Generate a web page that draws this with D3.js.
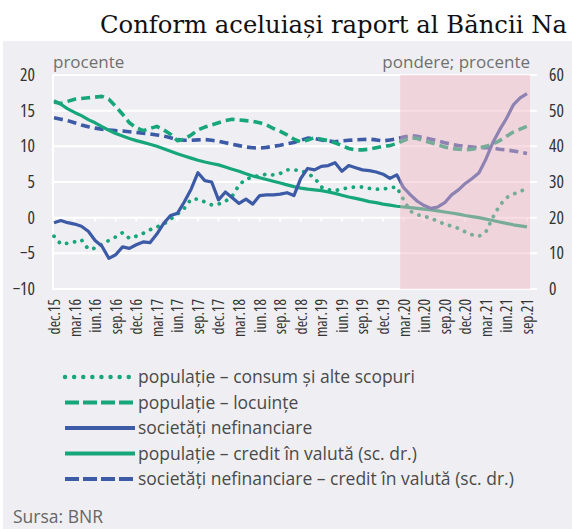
<!DOCTYPE html>
<html>
<head>
<meta charset="utf-8">
<script src="https://cdn.jsdelivr.net/npm/d3@7"></script>
<style>
  body { margin: 0; background: #fff; }
  svg { display: block; }
  .tick text { font-family: "Open Sans", "Noto Sans", sans-serif; font-stretch: condensed; }
</style>
</head>
<body>
<div id="chart"></div>
<script>
// tick labels on the x axis (every third month)
const tickLabels = ["dec.15","mar.16","iun.16","sep.16","dec.16","mar.17","iun.17","sep.17",
  "dec.17","mar.18","iun.18","sep.18","dec.18","mar.19","iun.19","sep.19","dec.19",
  "mar.20","iun.20","sep.20","dec.20","mar.21","iun.21","sep.21"];

// monthly values, dec.15 .. sep.21 (left scale, %)
const consum = [-2.6,-3.7,-3.6,-3.4,-3.1,-4.4,-4.3,-3.7,-3.2,-2.7,-2.1,-2.9,-2.6,-2.2,-1.7,-1.3,
  -0.9,-0.2,0.5,1.3,2.6,2.6,2.2,1.8,1.9,2.3,3.0,4.6,5.4,5.7,5.9,6.1,6.0,6.2,6.7,6.7,6.6,6.2,5.6,
  4.3,3.9,3.8,4.0,4.2,4.3,4.3,4.1,4.0,4.0,4.2,4.3,2.5,0.9,0.4,0.2,-0.1,-0.5,-0.9,-1.2,-1.5,-2.0,
  -2.4,-2.6,-2.0,0.0,1.7,2.8,3.3,3.7,4.1];
const locuinte = [16.2,16.0,16.3,16.6,16.7,16.8,16.9,17.0,16.6,15.6,14.5,13.3,12.6,12.2,12.5,
  12.8,12.3,11.7,10.8,11.0,11.6,12.3,12.7,13.0,13.3,13.6,13.8,13.7,13.6,13.5,13.3,13.0,12.5,12.1,
  11.6,11.0,10.6,10.9,11.2,11.0,10.8,10.5,10.1,9.7,9.5,9.5,9.6,9.8,10.0,10.1,10.4,10.8,11.2,11.1,
  10.8,10.5,10.2,9.9,9.7,9.6,9.5,9.6,9.8,10.0,10.3,10.8,11.4,12.0,12.4,12.8];
const nefinanciare = [-0.7,-0.4,-0.7,-0.9,-1.2,-1.9,-3.2,-4.0,-5.7,-5.2,-4.1,-4.3,-3.8,-3.4,-3.5,
  -2.3,-0.8,0.3,0.6,2.2,4.0,6.3,5.2,5.0,2.5,3.6,2.8,2.0,2.6,1.9,3.1,3.2,3.2,3.3,3.5,3.1,5.5,6.9,
  6.7,7.2,7.3,7.7,6.5,7.3,7.0,6.7,6.6,6.4,6.1,5.5,6.0,4.2,3.2,2.3,1.7,1.3,1.5,2.1,3.2,3.9,4.8,5.5,
  6.3,8.2,10.5,12.3,13.9,15.8,16.8,17.4];
// right scale, share in %
const popValuta = [52.8,51.8,50.5,49.5,48.6,47.5,46.6,45.5,44.5,43.6,42.9,42.2,41.6,41.1,40.6,
  40.0,39.3,38.6,37.9,37.3,36.7,36.1,35.6,35.2,34.8,34.2,33.6,33.0,32.3,31.7,31.2,30.7,30.2,29.7,
  29.2,28.7,28.3,28.0,27.8,27.6,27.2,26.8,26.3,25.8,25.4,25.0,24.5,24.2,23.8,23.5,23.2,23.0,22.8,
  22.6,22.4,22.2,21.9,21.6,21.3,21.0,20.6,20.3,20.0,19.6,19.2,18.8,18.4,18.0,17.7,17.4];
const nefValuta = [48.0,47.6,47.2,46.6,46.0,45.5,45.1,44.8,44.6,44.4,44.3,44.1,43.9,43.7,43.5,
  43.2,42.9,42.4,41.9,41.7,41.7,41.8,41.9,41.7,41.4,41.0,40.6,40.2,39.8,39.6,39.5,39.7,40.0,40.3,
  40.7,41.1,41.7,42.3,42.2,41.8,41.5,41.3,41.5,41.7,41.8,41.9,42.0,41.8,41.5,41.8,42.1,42.6,43.0,
  42.8,42.4,42.0,41.5,41.0,40.6,40.2,40.0,39.8,39.6,39.6,39.5,39.2,39.0,38.7,38.4,38.0];

const leftTicks = [-10,-5,0,5,10,15,20];
const rightTicks = [0,10,20,30,40,50,60];
const shadeFrom = 50.5; // start of shaded period (between feb.20 and mar.20)

const green = "#17a67b", blue = "#3c5aa6";

const series = [
  { name: "populație – consum și alte scopuri", values: consum, axis: "L", color: green, dash: "0.1,8", w: 3.8, legendDash: "0.1,9" },
  { name: "populație – locuințe", values: locuinte, axis: "L", color: green, dash: "9,5", w: 3.6, legendDash: "14,4" },
  { name: "societăți nefinanciare", values: nefinanciare, axis: "L", color: blue, dash: null, w: 3.2, legendDash: null },
  { name: "populație – credit în valută (sc. dr.)", values: popValuta, axis: "R", color: green, dash: null, w: 3.2, legendDash: null },
  { name: "societăți nefinanciare – credit în valută (sc. dr.)", values: nefValuta, axis: "R", color: blue, dash: "9,5", w: 3.6, legendDash: "14,4" }
];

const width = 572, height = 529;
const svg = d3.select("#chart").append("svg").attr("width", width).attr("height", height);

svg.append("rect").attr("width", width).attr("height", height).attr("fill", "#fff");
svg.append("rect").attr("x", 3).attr("y", 41).attr("width", width - 3).attr("height", height - 41)
  .attr("fill", "#efeff3");

svg.append("text").attr("x", 100).attr("y", 33)
  .attr("font-family", "DejaVu Serif, serif").attr("font-size", 24.3).attr("fill", "#111")
  .text("Conform aceluiași raport al Băncii Na");

const x = d3.scaleLinear().domain([0, consum.length - 1]).range([54, 527]);
const yL = d3.scaleLinear().domain([-10, 20]).range([289, 75]);
const yR = d3.scaleLinear().domain([0, 60]).range([289, 75]);

// gridlines
svg.append("g").selectAll("line").data(leftTicks).enter().append("line")
  .attr("x1", 52).attr("x2", 537)
  .attr("y1", d => yL(d)).attr("y2", d => yL(d))
  .attr("stroke", "#fff").attr("stroke-width", 2);
svg.append("line").attr("x1", 53).attr("x2", 53).attr("y1", yL(20)).attr("y2", yL(-10))
  .attr("stroke", "#fff").attr("stroke-width", 2);
// little ticks on the zero line
svg.append("g").selectAll("line").data(d3.range(0, consum.length, 3)).enter().append("line")
  .attr("x1", d => x(d)).attr("x2", d => x(d))
  .attr("y1", yL(0)).attr("y2", yL(0) + 4)
  .attr("stroke", "#fff").attr("stroke-width", 2);

// lines
const drawOrder = [4, 3, 1, 0, 2];
drawOrder.forEach(k => {
  const s = series[k];
  const y = s.axis === "L" ? yL : yR;
  const line = d3.line().x((d, i) => x(i)).y(d => y(d)).curve(d3.curveLinear);
  svg.append("path").datum(s.values)
    .attr("d", line)
    .attr("fill", "none")
    .attr("stroke", s.color)
    .attr("stroke-width", s.w)
    .attr("stroke-linejoin", "round")
    .attr("stroke-linecap", s.dash && s.dash.startsWith("0.1") ? "round" : "butt")
    .attr("stroke-dasharray", s.dash);
});

// shaded period on top, semi transparent
svg.append("rect")
  .attr("x", x(shadeFrom)).attr("y", yL(20))
  .attr("width", 530 - x(shadeFrom)).attr("height", yL(-10) - yL(20))
  .attr("fill", "#f0b4be").attr("opacity", 0.45);

// axes
const axL = svg.append("g").attr("transform", "translate(35,0)")
  .call(d3.axisLeft(yL).tickValues(leftTicks).tickSize(0).tickPadding(0));
const axR = svg.append("g").attr("transform", "translate(549,0)")
  .call(d3.axisRight(yR).tickValues(rightTicks).tickSize(0).tickPadding(0));
[axL, axR].forEach(a => {
  a.select(".domain").remove();
  a.selectAll("text").attr("font-size", 17.5).attr("fill", "#333");
});

const axB = svg.append("g").attr("transform", "translate(0,299)")
  .call(d3.axisBottom(x).tickValues(d3.range(0, consum.length, 3))
    .tickFormat((d, i) => tickLabels[i]).tickSize(0).tickPadding(0));
axB.select(".domain").remove();
axB.selectAll("text")
  .attr("font-size", 15.5).attr("fill", "#333")
  .attr("text-anchor", "end")
  .attr("transform", "rotate(-90)")
  .attr("x", 0).attr("y", 0).attr("dy", "0.35em");

// axis captions
svg.append("text").attr("x", 53).attr("y", 68)
  .attr("font-family", "Open Sans, sans-serif").attr("font-size", 17).attr("fill", "#707070")
  .text("procente");
svg.append("text").attr("x", 530).attr("y", 68).attr("text-anchor", "end")
  .attr("font-family", "Open Sans, sans-serif").attr("font-size", 17).attr("fill", "#707070")
  .text("pondere; procente");

// legend
const legend = svg.append("g");
series.forEach((s, i) => {
  const ly = 377 + i * 25.5;
  legend.append("line").attr("x1", 65).attr("x2", 135).attr("y1", ly).attr("y2", ly)
    .attr("stroke", s.color).attr("stroke-width", s.w + 0.6)
    .attr("stroke-linecap", s.legendDash && s.legendDash.startsWith("0.1") ? "round" : "butt")
    .attr("stroke-dasharray", s.legendDash);
  legend.append("text").attr("x", 138).attr("y", ly).attr("dy", "0.35em")
    .attr("font-family", "Open Sans, sans-serif").attr("font-size", 17.5).attr("fill", "#4a4a4a")
    .text(s.name);
});

svg.append("text").attr("x", 13).attr("y", 523)
  .attr("font-family", "Open Sans, sans-serif").attr("font-size", 17.5).attr("fill", "#666")
  .text("Sursa: BNR");
</script>
</body>
</html>
